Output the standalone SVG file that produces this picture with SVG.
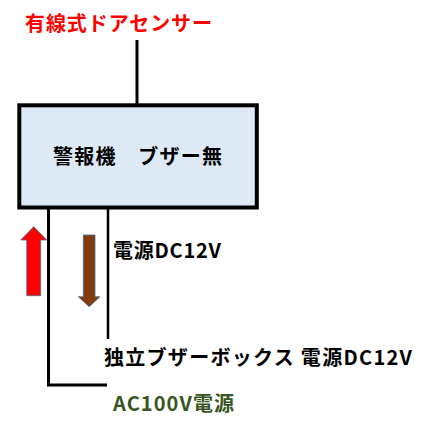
<svg xmlns="http://www.w3.org/2000/svg" width="423" height="424" viewBox="0 0 423 424">
<style>
.t{font-family:"Noto Sans CJK JP","Noto Sans",sans-serif;font-weight:bold;font-size:20px}
.ln{stroke:#000;fill:none}
</style>
<rect width="423" height="424" fill="#fff"/>
<g id="sensor-label"><text class="t" x="25" y="31" fill="#ff0000" textLength="187" lengthAdjust="spacing">有線式ドアセンサー</text></g>
<g id="connectors">
<line class="ln" x1="137" y1="40" x2="137" y2="104" stroke-width="3"/>
<polyline class="ln" points="48.5,208 48.5,385 107,385" stroke-width="3"/>
<line class="ln" x1="108" y1="208" x2="108" y2="339" stroke-width="2.5"/>
</g>
<g id="alarm">
<rect x="19.3" y="105.3" width="237.5" height="102.2" fill="#dde9f5" stroke="#000" stroke-width="4"/>
<text class="t" x="53" y="164" fill="#000" textLength="169" lengthAdjust="spacing">警報機　ブザー無</text>
</g>
<g id="arrow-up"><polygon points="33.7,226.7 46.7,240 40.7,240 40.7,295.7 26.7,295.7 26.7,240 20.7,240" fill="#ff0000" stroke="#41719c" stroke-width="0.8"/></g>
<g id="arrow-down"><polygon points="83.3,235 95,235 95,296.7 100,296.7 89.2,306.7 78.3,296.7 83.3,296.7" fill="#843c0c" stroke="#41719c" stroke-width="0.8"/></g>
<g id="dc-label"><text class="t" x="113" y="258" fill="#000" textLength="108" lengthAdjust="spacing">電源DC12V</text></g>
<g id="buzzer-label"><text class="t" x="104" y="365" fill="#000" textLength="308" lengthAdjust="spacing">独立ブザーボックス 電源DC12V</text></g>
<g id="ac-label"><text class="t" x="113" y="411" fill="#375623" textLength="121" lengthAdjust="spacing">AC100V電源</text></g>
</svg>
